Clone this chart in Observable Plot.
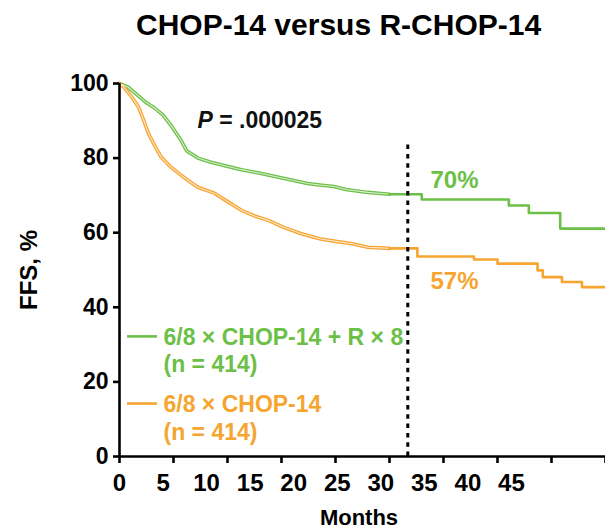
<!DOCTYPE html>
<html>
<head>
<meta charset="utf-8">
<script src="https://cdn.jsdelivr.net/npm/d3@7"></script>
<script src="https://cdn.jsdelivr.net/npm/@observablehq/plot@0.6"></script>
<style>
  html, body { margin: 0; padding: 0; background: #fff; }
  #title { box-sizing: border-box; height: 50px; padding: 7px 0 0 136px; font: bold 30px/36px "Liberation Sans", Arial, sans-serif; white-space: nowrap; color: #000; }
</style>
</head>
<body>
<div id="title">CHOP-14 versus R-CHOP-14</div>
<div id="chart"></div>
<script>
// ---- data ----
const rchopMonths = [0, 1, 2, 3, 4, 5, 6, 7, 7.7, 9, 10.5, 12, 14, 16, 18, 20, 21.6, 23, 24.6, 26, 28.5, 30, 31, 34.7, 44.7, 47, 50.6, 55.8];
const rchopFFS    = [100, 99, 97, 95, 93.5, 91.5, 88.5, 85, 82, 80, 78.9, 78, 76.9, 76, 75, 74, 73.2, 72.8, 72.4, 71.6, 70.8, 70.5, 70.3, 68.9, 67.3, 65.3, 61.1, 61.1];
const chopMonths  = [0, 0.5, 1.4, 2.2, 2.8, 3.3, 4, 4.8, 5.8, 6.8, 8, 9, 10.9, 12.5, 14, 15.5, 17.1, 19, 20.8, 22, 23.1, 25, 26.6, 28.5, 31, 34.2, 40.7, 43.4, 48, 48.6, 50.8, 53.1, 55.8];
const chopFFS     = [100, 99, 96.4, 93.6, 90, 86.7, 83.5, 80.2, 77.8, 75.9, 73.8, 72.2, 70.6, 68.2, 66, 64.5, 63.3, 61.3, 59.8, 59, 58.3, 57.6, 57.1, 56.1, 55.8, 53.6, 52.8, 51.7, 49.9, 48.1, 46.8, 45.4, 45.4];
const seriesNames = ["6/8 × CHOP-14 + R × 8", "6/8 × CHOP-14"];
const seriesN     = ["(n = 414)", "(n = 414)"];
const seriesColors = ["#6cbf47", "#f5a530"];
const pctLabels   = ["70%", "57%"];
const landmarkMonth = 33.1;
const denseUntil = 31; // months: dense-event part drawn smooth, sparse tail drawn as steps
const pText = "P = .000025";
const yTicks = [0, 20, 40, 60, 80, 100];
const xTickMarks = [0, 6.2, 12.4, 18.6, 24.8, 31, 37.2, 43.4, 49.6, 55.8];
const xTickLabels = [0, 5, 10, 15, 20, 25, 30, 35, 40, 45];
const xLabel = "Months";
const yLabel = "FFS, %";

// ---- build tables ----
const curves = [
  ...rchopMonths.map((m, i) => ({arm: seriesNames[0], month: m, ffs: rchopFFS[i]})),
  ...chopMonths.map((m, i) => ({arm: seriesNames[1], month: m, ffs: chopFFS[i]}))
];
const dense = curves.filter(d => d.month <= denseUntil);
const tail = curves.filter(d => d.month >= denseUntil);
const legend = seriesNames.map((s, i) => ({text: s + "\n" + seriesN[i], color: seriesColors[i], i}));
const pct = pctLabels.map((t, i) => ({text: t, color: seriesColors[i], i}));

const font = "'Liberation Sans', Arial, Helvetica, sans-serif";
const chart = Plot.plot({
  width: 605,
  height: 479,
  marginLeft: 119,
  marginRight: 0,
  marginTop: 33,
  marginBottom: 73,
  style: {fontFamily: font, fontWeight: "bold", color: "#000", background: "#fff", overflow: "visible"},
  x: {domain: [0, 55.8], axis: null},
  y: {domain: [0, 100], axis: null},
  color: {domain: seriesNames, range: seriesColors},
  marks: [
    Plot.line(dense, {x: "month", y: "ffs", z: "arm", stroke: "arm", curve: "linear", strokeWidth: 3.6}),
    Plot.line(dense, {x: "month", y: "ffs", z: "arm", stroke: "#fff", strokeOpacity: 0.75, curve: "linear", strokeWidth: 1.1}),
    Plot.line(tail, {x: "month", y: "ffs", z: "arm", stroke: "arm", curve: "step-after", strokeWidth: 2.6}),
    // legend
    Plot.ruleY(legend, {x1: 0.92, x2: 4.36, y: d => [32.2, 14.2][d.i], stroke: "color", strokeWidth: 2.6}),
    Plot.text(legend, {x: 5.05, y: d => [28.6, 10.5][d.i], text: "text", fill: "color", textAnchor: "start", lineAnchor: "middle", lineHeight: 1.2, fontSize: 23}),
    // end-point labels
    Plot.text(pct, {x: 35.7, y: d => [74, 47][d.i], text: "text", fill: "color", textAnchor: "start", fontSize: 24}),
    // P value
    Plot.text([pText], {x: 8.95, y: 90, text: d => d, textAnchor: "start", fontSize: 23, fill: "#111"}),
    // landmark dotted line
    Plot.ruleX([landmarkMonth], {y1: 0, y2: 84, stroke: "#000", strokeWidth: 3, strokeDasharray: "4.5,4.8"}),
    // axes
    Plot.ruleY([0], {stroke: "#000", strokeWidth: 2.6}),
    Plot.ruleX([0], {y1: 0, y2: 100, stroke: "#000", strokeWidth: 2.6}),
    Plot.axisY({ticks: yTicks, tickSize: 6, tickPadding: 5, strokeWidth: 2.6, fontSize: 23, label: null, tickFormat: d => String(d)}),
    Plot.axisX({ticks: xTickMarks, tickSize: 7, strokeWidth: 2.6, tickFormat: () => "", label: null}),
    Plot.axisX({ticks: xTickLabels, tickSize: 0, tickPadding: 17, fontSize: 24, label: null, tickFormat: d => String(d)}),
    Plot.text([xLabel], {frameAnchor: "bottom", lineAnchor: "bottom", dy: 68, dx: -3.5, text: d => d, fontSize: 22}),
    Plot.text([yLabel], {frameAnchor: "left", rotate: -90, lineAnchor: "bottom", textAnchor: "middle", dx: -83, text: d => d, fontSize: 24})
  ]
});

// italic P in the p-value annotation
d3.select(chart).selectAll("text").each(function() {
  if (this.textContent === pText) {
    const sel = d3.select(this);
    sel.text(null);
    sel.append("tspan").attr("font-style", "italic").text("P");
    sel.append("tspan").text(pText.slice(1));
  }
});

document.getElementById("chart").appendChild(chart);
</script>
</body>
</html>
